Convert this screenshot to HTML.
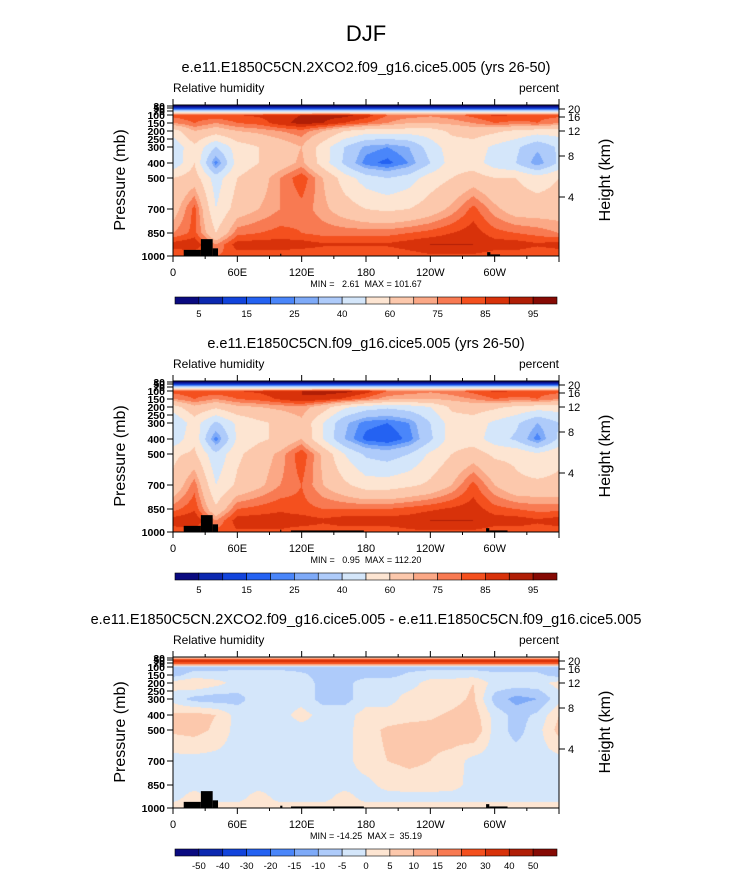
<!DOCTYPE html>
<html><head><meta charset="utf-8"><style>
body{margin:0;background:#fff;width:733px;height:872px;overflow:hidden;position:relative;font-family:"Liberation Sans",sans-serif}
canvas{position:absolute}
svg{position:absolute;left:0;top:0}
</style></head><body>
<canvas id="c0" width="386" height="151" style="left:173px;top:105px"></canvas>
<canvas id="c1" width="386" height="151" style="left:173px;top:381px"></canvas>
<canvas id="c2" width="386" height="151" style="left:173px;top:657px"></canvas>
<svg id="s" width="733" height="872" font-family="Liberation Sans, sans-serif"></svg>
<script>
const lons=[0,20,40,60,80,100,120,140,160,180,200,220,240,260,280,300,320,340,360];
const levels=[10,30,50,70,100,150,200,300,400,500,700,850,925,1000];
const c=v=>Array(19).fill(v);
const rh1=[c(2),c(3),c(8),c(35),
[82,84,84,85,86,88,90,92,92,88,80,78,76,78,82,86,85,82,82],
[75,80,75,80,82,88,92,90,85,80,75,70,70,72,75,80,78,80,75],
[55,70,65,70,72,75,78,70,60,55,55,55,55,62,65,62,58,55,55],
[42,58,40,55,60,65,70,55,40,28,25,30,45,55,55,48,42,32,42],
[42,60,22,55,60,65,72,55,38,22,18,25,40,55,55,45,40,25,42],
[60,65,45,60,65,75,84,70,55,45,40,45,55,60,65,60,60,55,60],
[65,82,50,65,70,75,78,72,65,60,58,60,65,72,82,72,65,65,65],
[75,82,60,78,80,82,80,78,78,78,78,80,82,85,88,82,80,78,75],
[88,90,75,88,88,88,88,86,86,86,86,88,90,90,90,88,88,86,88],
[80,80,80,82,82,82,80,80,80,80,80,82,84,84,84,82,82,80,80]];
const rh2=[c(2),c(3),c(8),c(35),
[82,84,84,85,86,88,90,92,92,88,80,78,76,78,82,86,85,82,82],
[75,80,75,80,82,86,90,88,84,78,72,70,70,72,75,80,78,80,75],
[55,68,62,68,70,72,74,65,52,45,42,45,50,62,65,62,58,55,55],
[40,55,38,52,58,62,68,50,32,22,20,25,40,55,55,48,42,30,40],
[42,58,22,52,58,62,70,50,30,18,15,22,38,55,55,45,38,22,42],
[58,62,42,58,65,72,84,68,50,38,35,40,52,60,65,58,58,52,58],
[62,78,50,62,68,75,80,70,62,55,55,58,62,70,82,70,62,62,62],
[78,84,62,80,82,84,82,80,80,80,80,82,84,86,88,82,80,78,78],
[88,90,75,88,88,88,88,86,88,88,88,88,90,90,90,88,88,86,88],
[82,82,82,84,84,84,82,82,82,82,82,84,84,84,84,82,82,82,82]];
const rhd=[c(2),c(8),c(35),c(25),c(-7),
[-7,-3,-3,-2,-2,-2,-4,-7,-7,-7,-7,-4,-2,-2,-2,-4,-4,-4,-7],
[2,5,2,-2,-2,-2,-2,-7,-7,-2,-2,-2,2,2,5,-2,-2,-2,2],
[-2,-7,-8,-7,-2,-2,-2,-7,-7,-2,-2,2,2,3,6,-7,-12,-10,-2],
[6,7,5,-2,-2,-2,2,-2,-2,2,2,3,4,6,8,-2,-7,-4,5],
[6,7,4,-2,-2,-2,-2,-2,-2,3,6,7,7,8,10,-2,-7,-2,7],
[-2,-2,-2,-2,-2,-2,-2,-2,-2,3,5,6,5,3,-2,-2,-2,-2,-2],
[-2,-2,-2,-2,-2,-2,-2,-2,-2,-2,2,3,3,2,-2,-2,-2,-2,-2],
[-2,2,-2,-2,2,-2,-2,-2,2,-2,-2,-2,-2,-2,-2,-2,-2,-2,-2],
c(2)];
const rhLevels=[5,10,15,20,25,30,40,50,60,70,75,80,85,90,95];
const rhLabels=[5,15,25,40,60,75,85,95];
const diffLevels=[-50,-40,-30,-20,-15,-10,-5,0,5,10,15,20,30,40,50];
const diffLabels=[-50,-40,-30,-20,-15,-10,-5,0,5,10,15,20,30,40,50];
const terrain1=[[10,26,960],[26,37,890],[37,42,950],[100,101,985],[293,296,975],[296,305,990]];
const terrain2=[[10,26,960],[26,37,890],[37,42,950],[100,101,985],[110,178,990],[292,295,975],[295,312,990]];
const terrain3=[[10,26,960],[26,37,890],[37,42,950],[100,102,985],[110,178,990],[292,295,975],[295,312,990]];
const colors=["#0a0a80","#0c28b0","#1244dc","#2462f2","#4a86fa","#7eaaf8","#aecbfa","#d4e6fa","#fde5d2","#fcc8ac","#fba886","#f87a52","#f4501e","#d8320a","#b01e06","#860a04"];
const pTick=[[10,0],[30,1],[50,3],[70,6],[100,10],[150,18],[200,26],[250,34],[300,42],[400,58],[500,73],[700,104],[850,128],[1000,151]];
function yOfP(p){for(let i=1;i<pTick.length;i++){if(p<=pTick[i][0]){const a=pTick[i-1],b=pTick[i];return a[1]+(b[1]-a[1])*(p-a[0])/(b[0]-a[0]);}}return 151;}
const W=386,H=151;const xOfLon=l=>l*W/360;
function hex(h){return [1,3,5].map(i=>parseInt(h.substr(i,2),16));}
function draw(id,data,lv){
 const ctx=document.getElementById(id).getContext('2d');const img=ctx.createImageData(W,H);
 const ly=levels.map(yOfP);const rgb=colors.map(hex);
 for(let y=0;y<H;y++){let j=0;while(j<ly.length-2&&ly[j+1]<y+0.5)j++;let ty=(y+0.5-ly[j])/(ly[j+1]-ly[j]);ty=Math.max(0,Math.min(1,ty));
  for(let x=0;x<W;x++){const lf=(x+0.5)/W*360/20;let i=Math.min(17,Math.floor(lf));const tx=lf-i;
   const v=(data[j][i]*(1-tx)+data[j][i+1]*tx)*(1-ty)+(data[j+1][i]*(1-tx)+data[j+1][i+1]*tx)*ty;
   let k=0;while(k<lv.length&&v>=lv[k])k++;const cc=rgb[k];const o=(y*W+x)*4;img.data[o]=cc[0];img.data[o+1]=cc[1];img.data[o+2]=cc[2];img.data[o+3]=255;}}
 ctx.putImageData(img,0,0);}
draw('c0',rh1,rhLevels);draw('c1',rh2,rhLevels);draw('c2',rhd,diffLevels);
const S=document.getElementById('s');const NS='http://www.w3.org/2000/svg';
function el(t,a,txt){const e=document.createElementNS(NS,t);for(const k in a)e.setAttribute(k,a[k]);if(txt!==undefined)e.textContent=txt;S.appendChild(e);return e;}
let t=el('text',{x:366,y:41,'font-size':22,'text-anchor':'middle'},'DJF');


const X0=173;
const panels=[
 {top:105,title:'e.e11.E1850C5CN.2XCO2.f09_g16.cice5.005 (yrs 26-50)',mm:'MIN =   2.61  MAX = 101.67',terr:terrain1,lab:rhLabels,lv:rhLevels},
 {top:381,title:'e.e11.E1850C5CN.f09_g16.cice5.005 (yrs 26-50)',mm:'MIN =   0.95  MAX = 112.20',terr:terrain2,lab:rhLabels,lv:rhLevels},
 {top:657,title:'e.e11.E1850C5CN.2XCO2.f09_g16.cice5.005 - e.e11.E1850C5CN.f09_g16.cice5.005',mm:'MIN = -14.25  MAX =  35.19',terr:terrain3,lab:diffLabels,lv:diffLevels}];
const xl=[['0',0],['60E',60],['120E',120],['180',180],['120W',240],['60W',300]];
const pl=[[30,'30'],[50,'50'],[70,'70'],[100,'100'],[150,'150'],[200,'200'],[250,'250'],[300,'300'],[400,'400'],[500,'500'],[700,'700'],[850,'850'],[1000,'1000']];
const hk=[[20,4],[16,12],[12,26],[8,51],[4,92]];
panels.forEach((P,n)=>{const T=P.top;
 t=el('text',{x:366,y:T-33,'font-size':14.5,'text-anchor':'middle'},P.title);
 
 
 t=el('text',{x:X0,y:T-13,'font-size':12},'Relative humidity');
 
 
 t=el('text',{x:X0+W,y:T-13,'font-size':12,'text-anchor':'end'},'percent');
 
 
 P.terr.forEach(s=>{const r=el('rect',{x:X0+xOfLon(s[0]),y:T+yOfP(s[2]),width:xOfLon(s[1]-s[0]),height:H-yOfP(s[2]),fill:'#000'});
  
  });
 const f=el('rect',{x:X0,y:T,width:W,height:H,fill:'none',stroke:'#000','stroke-width':1});
 
 
 for(let l=0;l<=360;l+=30){const x=X0+xOfLon(l),len=l%60==0?6:3;
  el('line',{x1:x,x2:x,y1:T+H,y2:T+H+len,stroke:'#000'});el('line',{x1:x,x2:x,y1:T,y2:T-len,stroke:'#000'});}
 xl.forEach(a=>{t=el('text',{x:X0+xOfLon(a[1]),y:T+H+20,'font-size':11,'text-anchor':'middle'},a[0]);
  
  });
 pl.forEach(a=>{const y=T+yOfP(a[0]);el('line',{x1:X0,x2:X0-6,y1:y,y2:y,stroke:'#000'});
  t=el('text',{x:X0-8,y:y+4,'font-size':10.5,'text-anchor':'end','font-weight':'bold'},a[1]);
  
  });
 hk.forEach(a=>{const y=T+a[1];el('line',{x1:X0+W,x2:X0+W+6,y1:y,y2:y,stroke:'#000'});
  t=el('text',{x:X0+W+9,y:y+4,'font-size':11},String(a[0]));
  
  });
 t=el('text',{x:0,y:0,'font-size':16,'text-anchor':'middle',transform:`translate(125,${T+75}) rotate(-90)`},'Pressure (mb)');
 
 
 t=el('text',{x:0,y:0,'font-size':16,'text-anchor':'middle',transform:`translate(610,${T+75}) rotate(-90)`},'Height (km)');
 
 
 t=el('text',{x:366,y:T+H+31,'font-size':9,'text-anchor':'middle',style:'white-space:pre'},P.mm);
 
 
 const cy=T+192,bw=382/16;
 colors.forEach((col,i)=>{const r=el('rect',{x:175+i*bw,y:cy,width:bw,height:7,fill:col,stroke:'#000','stroke-width':0.6});
  
  });
 P.lab.forEach(v=>{const k=P.lv.indexOf(v);t=el('text',{x:175+(k+1)*bw,y:cy+20,'font-size':9.5,'text-anchor':'middle'},String(v));
  
  });
});
</script></body></html>
